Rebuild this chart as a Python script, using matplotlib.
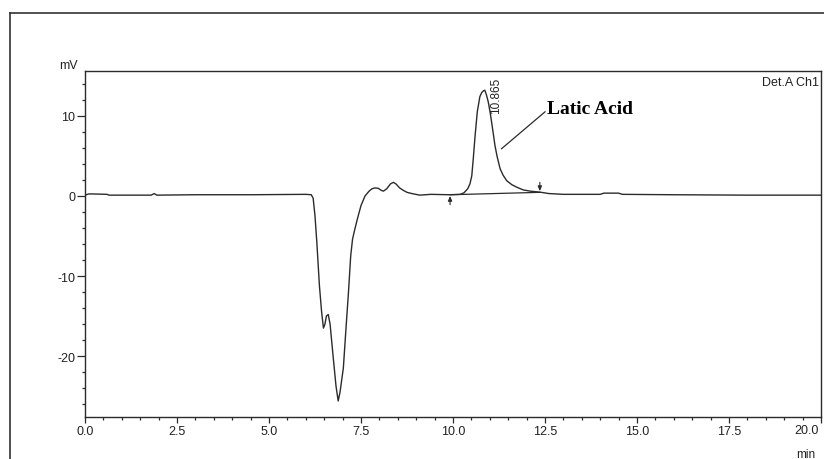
"""
Chromatogram of the lactic acid standard (detector A, channel 1).
"""

import matplotlib
matplotlib.use("Agg")
from matplotlib import pyplot as plt
from matplotlib.ticker import MultipleLocator
from matplotlib.lines import Line2D

# retention time (min) and detector signal (mV)
time_min = [0.0, 0.1, 0.2, 0.6, 0.65, 1.8, 1.88, 1.95, 3.0, 4.5, 6.0, 6.15,
            6.20, 6.25, 6.30, 6.37, 6.43, 6.48, 6.52, 6.56, 6.61, 6.66, 6.75,
            6.82, 6.88, 6.93, 7.02, 7.10, 7.16, 7.22, 7.27, 7.33, 7.40, 7.50,
            7.61, 7.72, 7.80, 7.88, 7.97, 8.05, 8.11, 8.20, 8.30, 8.38, 8.45,
            8.55, 8.65, 8.75, 8.88, 9.10, 9.40, 9.90, 10.20, 10.30, 10.40,
            10.46, 10.51, 10.55, 10.60, 10.66, 10.73, 10.78, 10.82, 10.865,
            10.91, 10.96, 11.01, 11.05, 11.10, 11.14, 11.20, 11.28, 11.36,
            11.46, 11.60, 11.73, 11.91, 12.10, 12.40, 12.60, 13.0, 14.0, 14.1,
            14.5, 14.6, 16.0, 18.0, 20.0]
signal_mv = [0.1, 0.25, 0.25, 0.2, 0.1, 0.1, 0.3, 0.1, 0.15, 0.15, 0.2, 0.15,
             -0.3, -2.5, -5.8, -11.2, -14.5, -16.5, -16.0, -15.0, -14.8, -16.0,
             -20.4, -23.7, -25.6, -24.5, -21.5, -16.0, -12.0, -7.5, -5.4, -4.2,
             -2.9, -1.2, 0.0, 0.6, 0.9, 1.0, 0.95, 0.7, 0.6, 0.9, 1.5, 1.7,
             1.5, 1.0, 0.7, 0.45, 0.3, 0.1, 0.2, 0.15, 0.2, 0.4, 0.9, 1.5,
             2.5, 4.6, 7.5, 10.5, 12.4, 12.9, 13.1, 13.2, 12.6, 11.7, 10.4,
             9.2, 7.6, 6.3, 4.9, 3.4, 2.6, 1.9, 1.4, 1.1, 0.75, 0.6, 0.45,
             0.3, 0.2, 0.2, 0.35, 0.35, 0.2, 0.15, 0.1, 0.1]

# integration baseline under the lactic acid peak
peak_start = (9.92, 0.15)
peak_end = (12.36, 0.45)
peak_rt = 10.865

t_max = 20.0
line_col = "#2b2b2b"
label_col = "#222222"

fig = plt.figure(figsize=(8.24, 4.6), dpi=100)
ax = fig.add_axes([85 / 824, 42 / 460, 736 / 824, 346 / 460])

ax.plot(time_min, signal_mv, color=line_col, lw=1.0)
ax.plot([peak_start[0], peak_end[0]], [peak_start[1], peak_end[1]],
        color=line_col, lw=0.9)

# peak start / end markers
tick_arrow = dict(arrowstyle="-|>,head_length=0.35,head_width=0.15",
                  color=line_col, lw=0.8, mutation_scale=8,
                  shrinkA=0, shrinkB=0)
ax.annotate("", xy=(peak_start[0], peak_start[1] - 0.15),
            xytext=(peak_start[0], peak_start[1] - 1.25),
            arrowprops=tick_arrow)
ax.annotate("", xy=(peak_end[0], peak_end[1] + 0.15),
            xytext=(peak_end[0], peak_end[1] + 1.25),
            arrowprops=tick_arrow)

ax.text(11.17, 10.3, f"{peak_rt:.3f}", rotation=90, ha="center", va="bottom",
        fontsize=8.5, family="Liberation Sans", color=label_col)
ax.plot([11.32, 12.5], [5.9, 10.5], color=line_col, lw=0.9)
ax.text(12.55, 10.3, "Latic Acid", ha="left", va="baseline", fontsize=14,
        family="Liberation Serif", weight="bold", color="black")

ax.text(0.997, 0.985, "Det.A Ch1", transform=ax.transAxes, ha="right",
        va="top", fontsize=9, family="Liberation Sans", color=label_col)

ax.set_xlim(0, t_max)
ax.set_ylim(-27.6, 15.6)
ax.xaxis.set_major_locator(MultipleLocator(2.5))
ax.xaxis.set_minor_locator(MultipleLocator(0.5))
ax.yaxis.set_major_locator(MultipleLocator(10))
ax.yaxis.set_minor_locator(MultipleLocator(2))
# the end label is drawn separately, pulled in from the figure edge
ax.xaxis.set_major_formatter(lambda v, p: "" if v >= t_max else f"{v:.1f}")
ax.yaxis.set_major_formatter(lambda v, p: f"{v:.0f}")
ax.annotate(f"{t_max:.1f}", xy=(t_max, 0), xycoords=ax.get_xaxis_transform(),
            xytext=(-2, -5), textcoords="offset points", ha="right",
            va="top", fontsize=9, family="Liberation Sans", color=label_col,
            annotation_clip=False)

ax.tick_params(axis="y", which="major", direction="out", length=6, width=0.9,
               pad=1, labelsize=9, colors=line_col, labelcolor=label_col)
ax.tick_params(axis="y", which="minor", direction="out", length=2.5,
               width=0.9, colors=line_col)
ax.tick_params(axis="x", which="major", direction="out", length=4, width=0.9,
               pad=2, labelsize=9, colors=line_col, labelcolor=label_col)
ax.tick_params(axis="x", which="minor", direction="out", length=2.5,
               width=0.9, colors=line_col)
for lbl in ax.get_xticklabels() + ax.get_yticklabels():
    lbl.set_family("Liberation Sans")
for sp in ax.spines.values():
    sp.set_color(line_col)
    sp.set_linewidth(1.0)

fig.text(68 / 824, 1 - 66 / 460, "mV", ha="center", va="center", fontsize=9,
         family="Liberation Sans", color=label_col)
fig.text(815 / 824, 1 - 455 / 460, "min", ha="right", va="center",
         fontsize=8.5, family="Liberation Sans", color=label_col)

# outer frame (left and top edges only)
fx, fy = 9.5 / 824, 1 - 13.5 / 460
fig.add_artist(Line2D([fx, fx], [0, fy], transform=fig.transFigure,
                      color="#333333", lw=1.2))
fig.add_artist(Line2D([fx, 1], [fy, fy], transform=fig.transFigure,
                      color="#333333", lw=1.2))

fig.savefig("out.png", dpi=100)
